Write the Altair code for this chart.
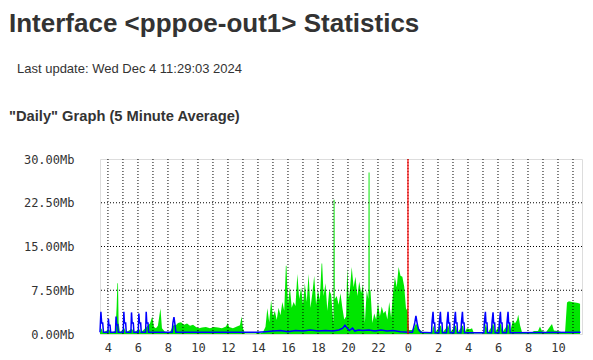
import altair as alt
import pandas as pd

# ---- data (hours relative to midnight; Mb/s) ----
in_hours = [-20.53, -20.42, -20.33, -19.93, -19.8, -19.5, -19.42, -19.37, -19.33, -19.29, -19.2,
            -18.91, -18.8, -18.4, -18.27, -17.91, -17.8, -17.42, -17.33, -17.2, -17.05,
            -16.93, -16.8, -16.67, -16.5, -16.4, -16.2, -15.87, -15.7, -15.6, -15.47,
            -15.33, -15.13, -14.93, -14.73, -14.53, -14.33, -14.13, -13.93, -13.73, -13.47,
            -13.2, -12.93, -12.67, -12.4, -12.13, -12.02, -11.93, -11.67, -11.4, -11.2,
            -11.09, -11.0, -10.87, -10.13, -10.0, -9.87, -9.67,
            -9.5, -9.375, -9.25, -9.125, -9.0, -8.875, -8.75, -8.625, -8.5, -8.375,
            -8.25, -8.14, -8.1, -8.0, -7.875, -7.75, -7.625, -7.5, -7.375, -7.25, -7.125,
            -7.0, -6.875, -6.75, -6.625, -6.5, -6.375, -6.25, -6.125, -6.0, -5.875,
            -5.76, -5.72, -5.625, -5.5, -5.375, -5.25, -5.125, -4.97, -4.955, -4.895, -4.88, -4.75,
            -4.625, -4.5, -4.375, -4.25, -4.125, -4.05, -3.95, -3.875, -3.75, -3.625,
            -3.5, -3.375, -3.25, -3.125, -3.0, -2.875, -2.75, -2.64, -2.625, -2.565, -2.55, -2.5,
            -2.375, -2.25, -2.125, -2.0, -1.875, -1.75, -1.625, -1.5, -1.375, -1.25,
            -1.125, -1.0, -0.875, -0.75, -0.625, -0.5, -0.375, -0.25, -0.125, -0.03,
            0.07, 0.27, 0.4, 0.53, 0.67,
            0.8, 1.0, 1.6, 1.69, 1.8, 2.18, 2.3, 2.69, 2.8, 3.18,
            3.3, 3.65, 3.77, 3.93, 4.13, 4.27, 4.4, 5.07, 5.18, 5.33,
            5.69, 5.8, 6.18, 6.3, 6.69, 6.8, 7.0, 7.13, 7.27, 7.35,
            7.47, 7.6, 8.27, 8.4, 8.67, 8.8, 8.93, 9.2, 9.47, 9.6,
            9.73, 10.0, 10.27, 10.47, 10.6, 10.73, 10.93, 11.13, 11.33, 11.47]
in_mb = [0.3, 1.0, 0.2, 0.8, 0.2, 0.5, 4.7, 8.7, 8.7, 2.0, 0.3,
         1.0, 0.3, 0.9, 0.3, 0.8, 0.3, 1.2, 1.5, 1.8, 3.0,
         1.2, 1.0, 1.4, 4.4, 1.0, 0.4, 0.3, 1.2, 1.6, 1.5,
         1.9, 2.0, 1.6, 1.8, 1.4, 1.6, 1.2, 1.0, 1.1, 1.2,
         1.0, 1.2, 1.1, 1.0, 1.3, 1.9, 1.2, 1.0, 1.3, 1.5,
         3.0, 1.0, 0.1, 0.1, 0.5, 0.1, 0.3,
         1.2, 4.4, 2.0, 5.8, 3.0, 4.0, 2.4, 4.5, 3.2, 5.5,
         4.0, 11.7, 11.7, 5.0, 8.1, 4.5, 5.5, 4.8, 10.3, 6.0, 8.0,
         5.0, 8.7, 5.5, 10.3, 4.5, 7.0, 10.0, 5.0, 7.5, 5.8,
         12.1, 12.1, 6.5, 8.7, 4.0, 7.5, 6.8, 1.9, 23.0, 23.0, 6.0, 6.5,
         5.0, 7.0, 4.5, 2.5, 3.0, 11.3, 6.0, 7.5, 11.5, 8.0,
         9.8, 6.5, 9.0, 7.0, 8.5, 1.9, 7.5, 6.0, 27.7, 27.7, 7.5, 7.5,
         1.9, 3.5, 2.5, 5.3, 3.0, 4.7, 3.5, 4.0, 2.5, 5.5,
         2.8, 7.0, 9.8, 8.0, 11.5, 10.0, 9.8, 8.1, 4.1, 4.5,
         0.7, 0.7, 1.0, 1.8, 1.3,
         0.7, 0.3, 0.2, 1.5, 0.2, 1.5, 0.2, 1.5, 0.2, 1.5,
         0.2, 1.5, 0.2, 1.0, 0.8, 1.0, 0.1, 0.1, 1.8, 0.2,
         1.8, 0.3, 1.8, 0.3, 1.8, 0.3, 2.4, 1.8, 2.4, 3.3,
         1.5, 0.3, 0.3, 0.5, 0.5, 1.3, 0.5, 0.3, 1.3, 1.7,
         0.6, 0.5, 0.3, 0.3, 5.4, 5.6, 5.5, 5.4, 5.3, 5.2]

out_hours = [-20.53, -20.47, -20.42, -20.35, -20.3, -20.0, -19.97, -19.93, -19.86, -19.82,
             -19.5, -19.46, -19.42, -19.35, -19.31, -18.98, -18.94, -18.9, -18.82, -18.78,
             -18.47, -18.43, -18.39, -18.31, -18.27, -17.98, -17.94, -17.9, -17.82, -17.78,
             -17.49, -17.45, -17.41, -17.33, -17.29, -15.72, -15.67, -15.6, -15.53, -15.47,
             -10.0, -9.5, -9.0, -8.5, -8.0, -7.5, -7.0, -6.5, -6.0, -5.5,
             -5.0, -4.6, -4.35, -4.2, -4.05, -3.9, -3.7, -3.55, -3.3, -3.0,
             -2.6, -2.2, -1.8, -1.4, -1.0, -0.5, 0.0, 0.3, 0.45, 0.53,
             0.6, 0.7, 0.85,
             1.57, 1.6, 1.67, 1.71, 1.78, 1.81,
             2.06, 2.09, 2.16, 2.2, 2.27, 2.3,
             2.57, 2.6, 2.67, 2.71, 2.78, 2.81,
             3.06, 3.09, 3.16, 3.2, 3.27, 3.3,
             3.53, 3.56, 3.63, 3.67, 3.74, 3.77,
             5.06, 5.09, 5.16, 5.2, 5.27, 5.3,
             5.57, 5.6, 5.67, 5.71, 5.78, 5.81,
             6.06, 6.09, 6.16, 6.2, 6.27, 6.3,
             6.57, 6.6, 6.67, 6.71, 6.78, 6.81,
             11.5]
out_mb = [0.3, 3.8, 1.9, 1.9, 0.3, 0.3, 2.6, 1.5, 1.5, 0.3,
          0.3, 3.0, 1.6, 1.6, 0.3, 0.3, 3.8, 1.9, 1.9, 0.3,
          0.3, 3.7, 1.9, 1.9, 0.3, 0.3, 3.5, 1.9, 1.9, 0.3,
          0.3, 3.8, 1.9, 1.9, 0.3, 0.3, 1.9, 2.9, 1.6, 0.3,
          0.3, 0.4, 0.5, 0.6, 0.4, 0.6, 0.5, 0.7, 0.5, 0.6,
          0.5, 0.7, 1.0, 1.5, 1.0, 0.6, 1.0, 0.5, 0.7, 0.6,
          0.7, 0.5, 0.7, 0.5, 0.6, 0.4, 0.3, 0.3, 1.9, 3.1,
          2.0, 0.8, 0.3,
          0.2, 1.9, 3.8, 1.9, 1.9, 0.2,
          0.2, 1.9, 3.8, 1.9, 1.9, 0.2,
          0.2, 1.9, 3.8, 1.9, 1.9, 0.2,
          0.2, 1.9, 3.8, 1.9, 1.9, 0.2,
          0.2, 1.9, 3.8, 1.9, 1.9, 0.2,
          0.2, 1.9, 3.8, 1.9, 1.9, 0.2,
          0.2, 1.9, 3.7, 1.9, 1.9, 0.2,
          0.2, 1.9, 3.8, 1.9, 1.9, 0.2,
          0.2, 1.9, 3.8, 1.9, 1.9, 0.2,
          0.3]

y_ticks = [0, 7.5, 15, 22.5, 30]
y_grid = [7.5, 15, 22.5]
x_label_hours = [-20, -18, -16, -14, -12, -10, -8, -6, -4, -2, 0, 2, 4, 6, 8, 10]
x_grid_hours = list(range(-20, 12))
x_domain = [-20.53, 11.6]
midnight = [0]

heading = "Interface <pppoe-out1> Statistics"
update_line = "Last update: Wed Dec 4 11:29:03 2024"
graph_title = "\"Daily\" Graph (5 Minute Average)"

TEXT = "#333333"
HFONT = "Liberation Sans, Arial, sans-serif"

df_in = pd.DataFrame({"h": in_hours, "v": in_mb})
df_out = pd.DataFrame({"h": out_hours, "v": out_mb})

x_axis = alt.Axis(values=x_label_hours, title=None, ticks=False, domain=False, grid=False,
                  labelExpr="'' + ((datum.value + 24) % 24)",
                  labelFont="DejaVu Sans Mono", labelFontSize=12, labelColor=TEXT,
                  labelPadding=8, labelFlush=False, labelOverlap=False)
y_axis = alt.Axis(values=y_ticks, title=None, ticks=False, domain=False, grid=False,
                  labelExpr="format(datum.value, '.2f') + 'Mb'",
                  labelFont="DejaVu Sans Mono", labelFontSize=12, labelColor=TEXT,
                  labelPadding=26, labelOverlap=False)
x_scale = alt.Scale(domain=x_domain, nice=False, zero=False)
y_scale = alt.Scale(domain=[0, 30], nice=False)

def X():
    return alt.X("h:Q", scale=x_scale, axis=x_axis)

def Y():
    return alt.Y("v:Q", scale=y_scale, axis=y_axis)

area = alt.Chart(df_in).mark_area(color="#00e600", interpolate="linear", opacity=1).encode(
    x=X(), y=Y())

vgrid = alt.Chart(pd.DataFrame({"h": x_grid_hours})).mark_rule(
    color="#000000", strokeWidth=1, strokeDash=[1, 2]).encode(x=X())
hgrid = alt.Chart(pd.DataFrame({"v": y_grid})).mark_rule(
    color="#000000", strokeWidth=1, strokeDash=[1, 2]).encode(y=Y())

line = alt.Chart(df_out).mark_line(color="#0000ff", strokeWidth=1.5, interpolate="linear").encode(
    x=X(), y=Y())

rule = alt.Chart(pd.DataFrame({"h": midnight})).mark_rule(color="#ff0000", strokeWidth=1.2).encode(
    x=X())

t1 = alt.Chart(pd.DataFrame({"t": [heading]})).mark_text(
    align="left", baseline="alphabetic", font=HFONT, fontSize=26, fontWeight="bold",
    color=TEXT).encode(text="t:N", x=alt.value(-91), y=alt.value(-127))
t2 = alt.Chart(pd.DataFrame({"t": [update_line]})).mark_text(
    align="left", baseline="alphabetic", font=HFONT, fontSize=13,
    color=TEXT).encode(text="t:N", x=alt.value(-83), y=alt.value(-86))
t3 = alt.Chart(pd.DataFrame({"t": [graph_title]})).mark_text(
    align="left", baseline="alphabetic", font=HFONT, fontSize=14.7, fontWeight="bold",
    color=TEXT).encode(text="t:N", x=alt.value(-91), y=alt.value(-38))

chart = alt.layer(area, vgrid, hgrid, line, rule, t1, t2, t3).properties(
    width=482, height=175,
    autosize=alt.AutoSizeParams(type="none"),
    padding={"left": 92, "top": 151, "right": 3, "bottom": 26},
).configure_view(stroke="#000000", strokeWidth=1).configure_axis(
    labelOverlap=False).configure(background="#ffffff")

chart.save("out.html", embed_options={"renderer": "svg", "actions": False})
